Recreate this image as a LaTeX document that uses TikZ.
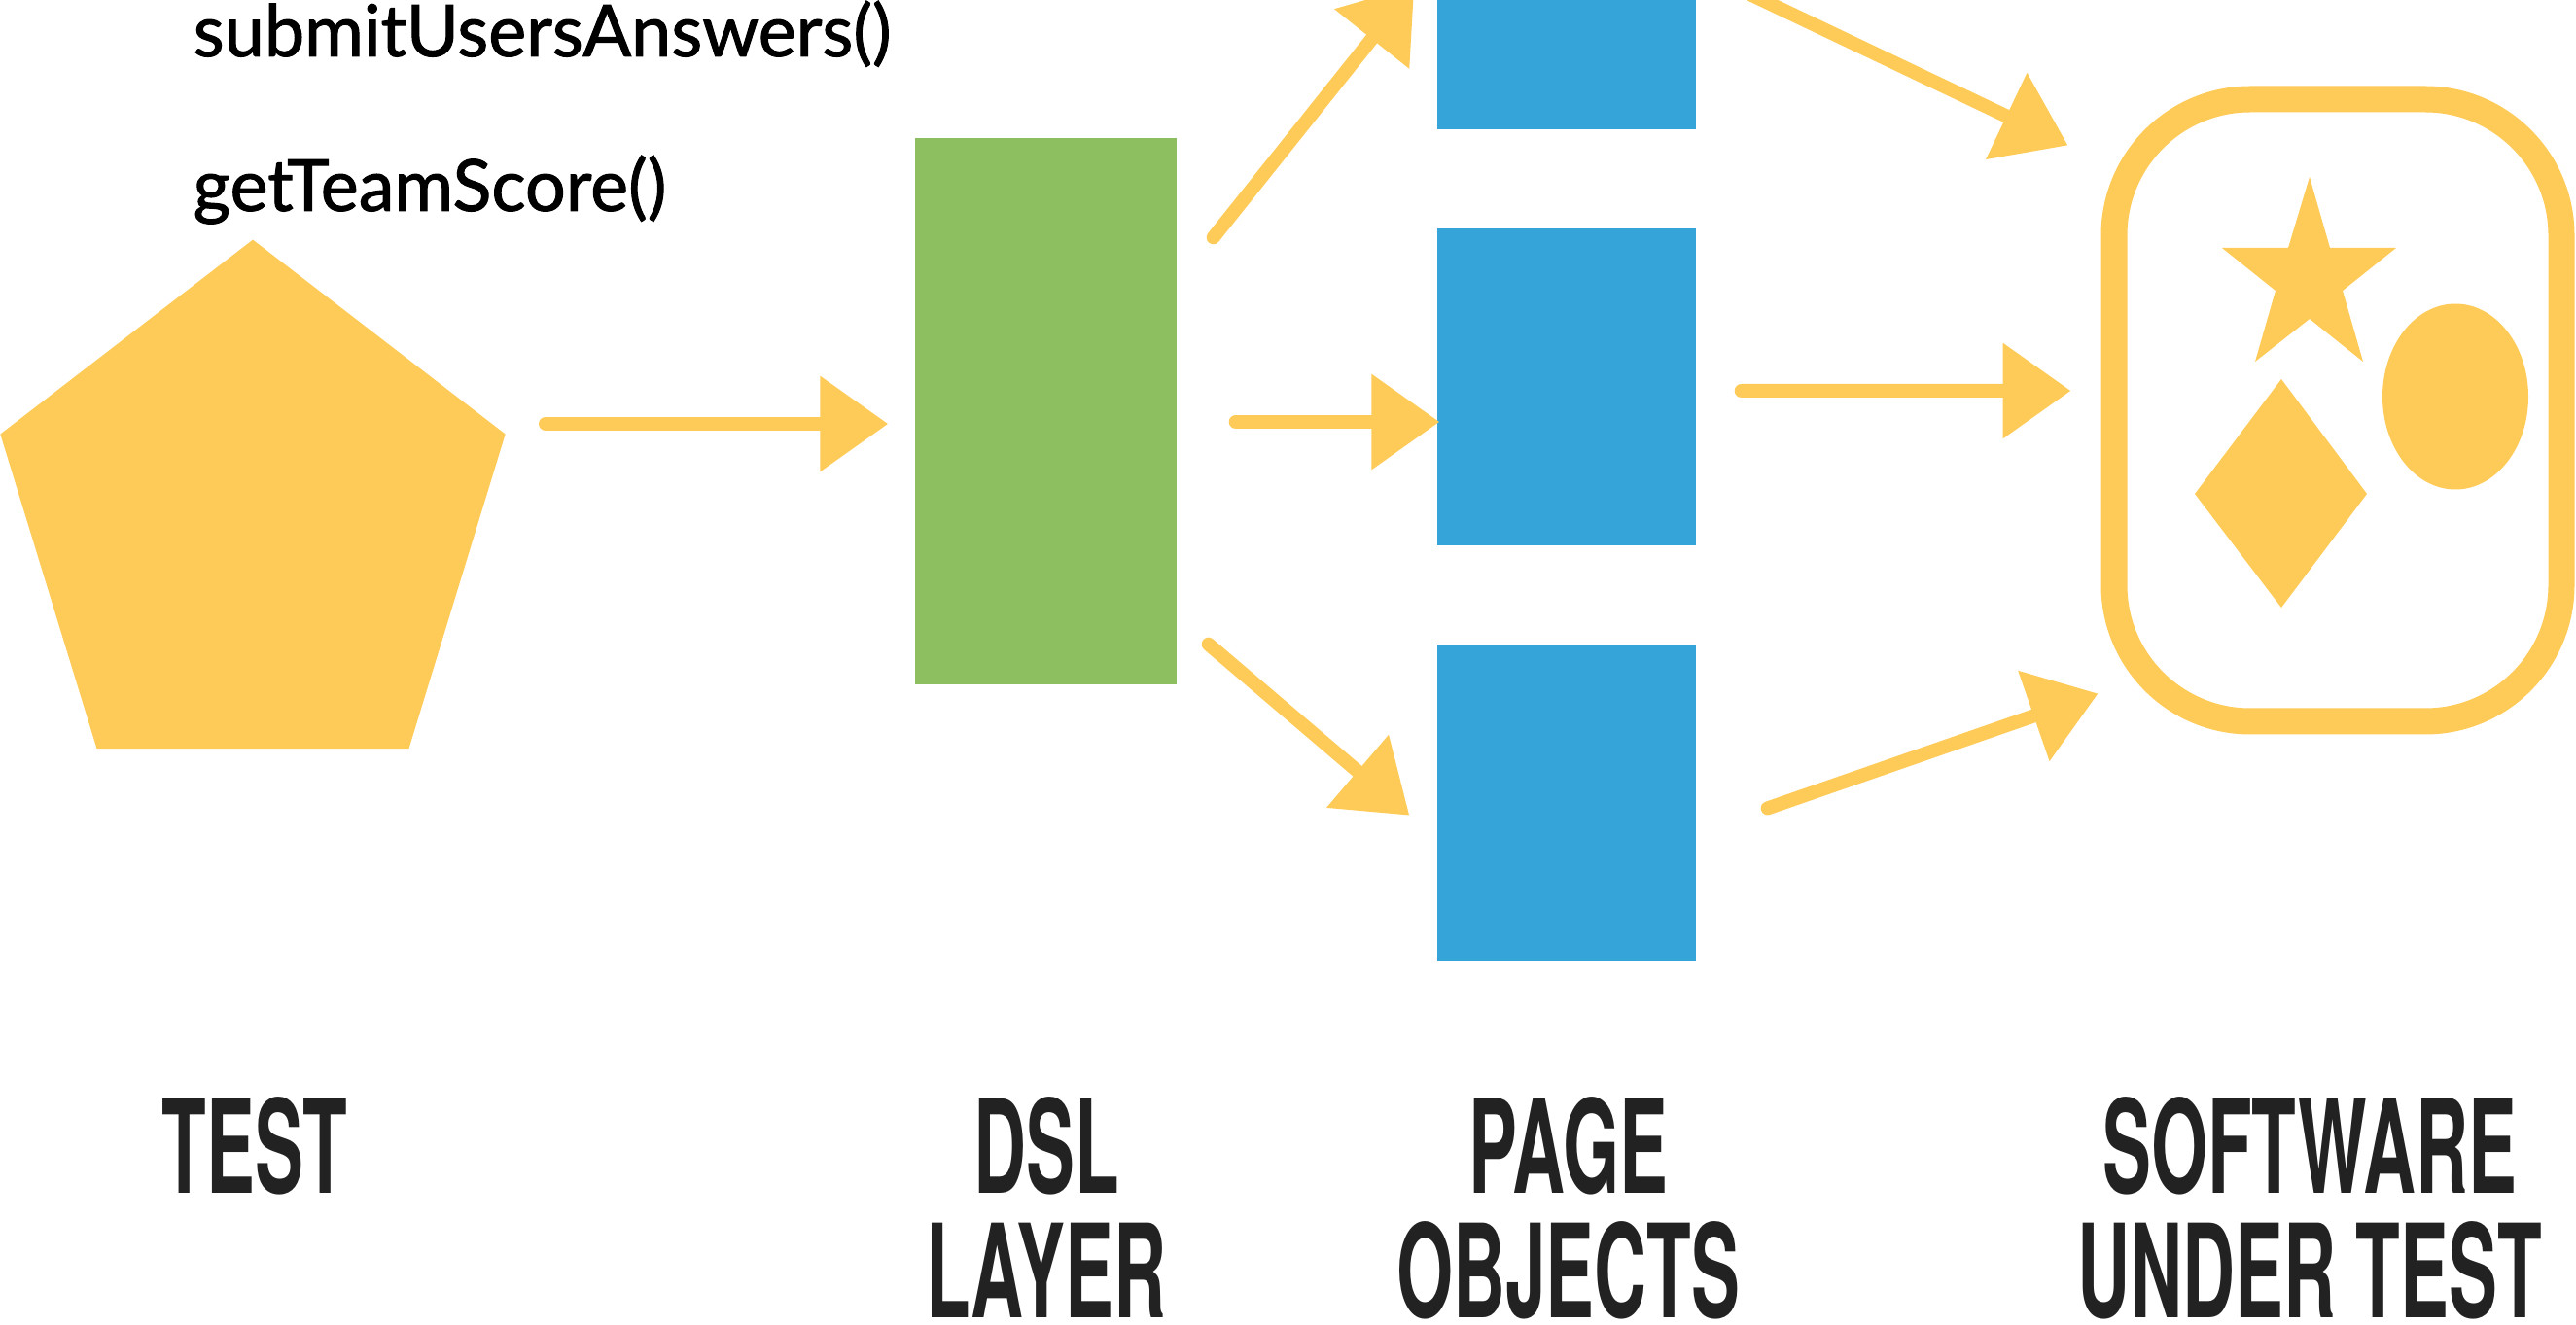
\documentclass[tikz,border=0pt]{standalone}
\usepackage{fontspec}
\setmainfont{Lato}
\newfontfamily\methodfont[FakeBold=1.3]{Lato}
\newfontfamily\labelfont[FakeStretch=0.56]{TeX Gyre Heros}
\usepackage{color}
\usepackage{tikz}
\usetikzlibrary{
        arrows.meta,
        positioning,
        shapes,
        shapes.geometric
    }
\definecolor{chalk}{HTML}{FECB58}
\definecolor{dslgreen}{HTML}{8DBE5F}
\definecolor{poblue}{HTML}{35A4D9}
\definecolor{ink}{HTML}{222222}
\tikzset{>={Triangle[length=7mm,width=9.5mm]},node distance=1.01cm}
\tikzset{
    layer/.style={rectangle,inner sep=0pt},
    chalkarrow/.style={->,draw=chalk,line width=1.4mm,line cap=round},
    caption/.style={font=\labelfont\bfseries\fontsize{38}{36.4}\selectfont,text=ink,align=center,anchor=north,inner sep=0pt},
    method/.style={font=\methodfont\fontsize{21}{25}\selectfont,anchor=base west,inner sep=0pt}
}

\begin{document}
\begin{tikzpicture}
    \useasboundingbox (0,0) rectangle (26.49,-13.63);
    \clip (0,0) rectangle (26.49,-13.63);
    % methods called by the test
    \node[method] (submit) at (1.98,-0.58) {submitUsersAnswers()};
    \node[method] (score)  at (1.98,-2.17) {getTeamScore()};
    % layers
    \node[regular polygon,regular polygon sides=5,fill=chalk,minimum size=5.46cm,inner sep=0pt,yscale=1.06,transform shape] (test) at (2.60,-5.36) {};
    \node[layer,fill=dslgreen,minimum width=2.69cm,minimum height=5.62cm] (dsl) at (10.755,-4.23) {};
    \node[layer,fill=poblue,minimum width=2.66cm,minimum height=3.26cm] (po2) at (16.11,-3.98) {};
    \node[layer,fill=poblue,minimum width=2.66cm,minimum height=3.26cm] (po1) [above=of po2] {};
    \node[layer,fill=poblue,minimum width=2.66cm,minimum height=3.26cm] (po3) [below=of po2] {};
    \node[draw=chalk,line width=2.7mm,rounded corners=14mm,minimum width=4.6cm,minimum height=6.4cm] (sut) at (24.04,-4.22) {};
    % icon inside the software under test
    \fill[chalk] (23.75,-1.82) -- (23.96,-2.55) -- (24.64,-2.55) -- (24.09,-2.99) -- (24.30,-3.72)
        -- (23.75,-3.28) -- (23.19,-3.72) -- (23.40,-2.99) -- (22.85,-2.55) -- (23.53,-2.55) -- cycle;
    \fill[chalk] (23.46,-3.90) -- (24.34,-5.08) -- (23.46,-6.25) -- (22.57,-5.08) -- cycle;
    \fill[chalk] (25.25,-4.08) ellipse [x radius=0.75,y radius=0.955];
    % arrows
    \draw[chalkarrow] ([shift={(3.01,1.00)}]test.center) -- ([shift={(-0.27,-0.13)}]dsl.west);
    \draw[chalkarrow] ([shift={(0.37,-1.03)}]dsl.north east) -- ([shift={(-0.23,1.48)}]po1.south west);
    \draw[chalkarrow] ([shift={(0.60,-0.11)}]dsl.east) -- ([shift={(0.03,-0.36)}]po2.west);
    \draw[chalkarrow] ([shift={(0.32,0.42)}]dsl.south east) -- ([shift={(-0.28,-1.76)}]po3.north west);
    \draw[chalkarrow] ([shift={(0.56,-0.25)}]po1.east) -- ([shift={(-0.34,-0.61)}]sut.north west);
    \draw[chalkarrow] ([shift={(0.46,-0.04)}]po2.east) -- ([shift={(-0.31,0.20)}]sut.west);
    \draw[chalkarrow] ([shift={(0.73,-0.05)}]po3.east) -- ([shift={(-0.03,0.42)}]sut.south west);
    % captions
    \node[caption] (testlbl) at (2.62,-11.28) {TEST};
    \node[caption] (dsllbl) at (10.76,-11.28) {DSL\\LAYER};
    \node[caption] (polbl) at (16.13,-11.28) {PAGE\\OBJECTS};
    \node[caption] (sutlbl) at (23.75,-11.28) {SOFTWARE\\UNDER TEST};
\end{tikzpicture}
\end{document}
